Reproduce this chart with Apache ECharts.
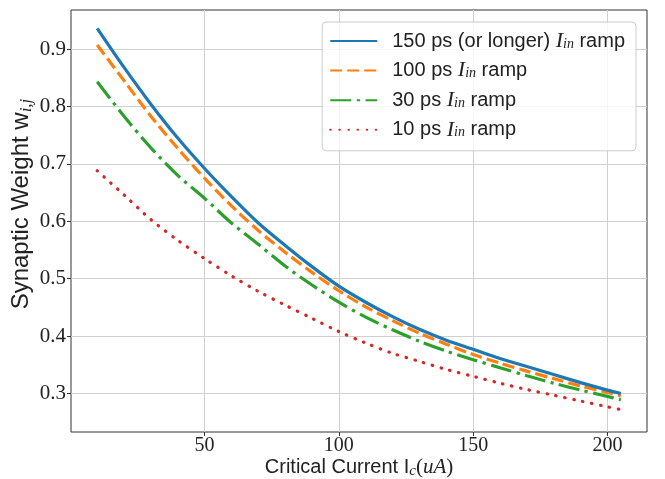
<!DOCTYPE html>
<html>
<head>
<meta charset="utf-8">
<script src="https://cdn.jsdelivr.net/npm/echarts@6/dist/echarts.min.js"></script>
<style>
html,body{margin:0;padding:0;background:#fff;}
#chart{width:665px;height:479px;}
</style>
</head>
<body>
<div id="chart"></div>
<script>
// ---- data ----
const icValues = [10, 20, 30, 40, 50, 60, 70, 80, 90, 100, 110, 120, 130, 140, 150, 160, 170, 180, 190, 200, 205];
const ramp150 = [0.936, 0.868, 0.804, 0.745, 0.692, 0.643, 0.597, 0.558, 0.521, 0.487, 0.459, 0.434, 0.412, 0.393, 0.377, 0.361, 0.347, 0.333, 0.319, 0.306, 0.300];
const ramp100 = [0.907, 0.845, 0.783, 0.727, 0.675, 0.627, 0.584, 0.546, 0.511, 0.479, 0.451, 0.427, 0.405, 0.386, 0.368, 0.353, 0.339, 0.326, 0.313, 0.302, 0.296];
const ramp30  = [0.843, 0.783, 0.728, 0.680, 0.640, 0.597, 0.560, 0.522, 0.489, 0.459, 0.433, 0.411, 0.391, 0.374, 0.359, 0.345, 0.331, 0.318, 0.306, 0.295, 0.289];
const ramp10  = [0.688, 0.646, 0.603, 0.567, 0.535, 0.505, 0.478, 0.454, 0.431, 0.408, 0.388, 0.370, 0.356, 0.342, 0.330, 0.318, 0.307, 0.297, 0.287, 0.277, 0.272];
const seriesNames = ['150 ps (or longer)', '100 ps', '30 ps', '10 ps'];
const xTicks = [50, 100, 150, 200];
const yTicks = [0.3, 0.4, 0.5, 0.6, 0.7, 0.8, 0.9];
// ---------------------------------------

const colors = ['#1f77b4', '#ff7f0e', '#2ca02c', '#d62728'];
const dashes = ['solid', [12, 5], [21, 5.5, 3.3, 5.5], [0.5, 8.6]];
const caps = ['butt', 'butt', 'butt', 'round'];
const allY = [ramp150, ramp100, ramp30, ramp10];

function pairs(ys) { return icValues.map((x, i) => [x, ys[i]]); }

const serif = 'Liberation Serif';
const sans = 'Liberation Sans';

const chart = echarts.init(document.getElementById('chart'), null, {renderer: 'canvas'});
chart.setOption({
  animation: false,
  backgroundColor: '#fff',
  grid: {left: 71, right: 18, top: 10, bottom: 47, show: true, borderColor: '#333', borderWidth: 1,
    backgroundColor: 'transparent', outerBoundsMode: 'none', containLabel: false},
  legend: {
    orient: 'vertical',
    right: 29, top: 22,
    padding: [8, 11, 10, 7],
    itemWidth: 47, itemHeight: 20, itemGap: 7.6,
    backgroundColor: 'rgba(255,255,255,0.8)',
    borderColor: '#cccccc', borderWidth: 1, borderRadius: 4,
    itemStyle: {opacity: 0},
    data: seriesNames,
    formatter: function (name) {
      return '{t|' + name + ' }{m|I}{s|in}{t| ramp}';
    },
    textStyle: {
      fontFamily: sans, fontSize: 20, color: '#222', padding: [0, 0, 0, 10],
      rich: {
        t: {fontFamily: sans, fontSize: 20, color: '#222', lineHeight: 20},
        m: {fontFamily: serif, fontStyle: 'italic', fontSize: 22, color: '#222', lineHeight: 20},
        s: {fontFamily: serif, fontStyle: 'italic', fontSize: 14, color: '#222', lineHeight: 14, verticalAlign: 'bottom'}
      }
    }
  },
  xAxis: {
    type: 'value', min: 0.25, max: 214.75,
    name: '{t|Critical Current I}{s|c}{p|(}{m|uA}{p|)}',
    nameLocation: 'middle', nameGap: 23, nameMoveOverlap: false,
    nameTextStyle: {
      rich: {
        t: {fontFamily: sans, fontSize: 20, color: '#222', lineHeight: 24},
        s: {fontFamily: serif, fontStyle: 'italic', fontSize: 15, color: '#222', lineHeight: 16, verticalAlign: 'bottom'},
        p: {fontFamily: serif, fontSize: 21, color: '#222', lineHeight: 24},
        m: {fontFamily: serif, fontStyle: 'italic', fontSize: 21, color: '#222', lineHeight: 24}
      }
    },
    axisLine: {show: false},
    axisTick: {show: true, length: 4, inside: false, customValues: xTicks, lineStyle: {color: '#333'}},
    axisLabel: {customValues: xTicks, fontFamily: serif, fontSize: 20, color: '#222', margin: 4},
    splitLine: {show: true, lineStyle: {color: '#d0d0d0', width: 1}}
  },
  yAxis: {
    type: 'value', min: 0.233, max: 0.968,
    name: '{t|Synaptic Weight w}{s|i,j}',
    nameLocation: 'middle', nameGap: 36, nameRotate: 90, nameMoveOverlap: false,
    nameTextStyle: {
      padding: [0, 0, 0, 34],
      rich: {
        t: {fontFamily: sans, fontSize: 24, color: '#222', lineHeight: 28},
        s: {fontFamily: serif, fontStyle: 'italic', fontSize: 17, color: '#222', lineHeight: 18, verticalAlign: 'bottom'}
      }
    },
    axisLine: {show: false},
    axisTick: {show: true, length: 4, inside: false, customValues: yTicks, lineStyle: {color: '#333'}},
    axisLabel: {customValues: yTicks, fontFamily: serif, fontSize: 21, color: '#222', margin: 5,
      formatter: v => v.toFixed(1)},
    splitLine: {show: true, lineStyle: {color: '#d0d0d0', width: 1}}
  },
  series: seriesNames.map((n, i) => ({
    name: n, type: 'line', smooth: 0.3, symbol: 'none',
    data: pairs(allY[i]),
    color: colors[i],
    lineStyle: {color: colors[i], width: 3.2, type: dashes[i], cap: caps[i]},
    z: 10 - i
  }))
});
</script>
</body>
</html>
